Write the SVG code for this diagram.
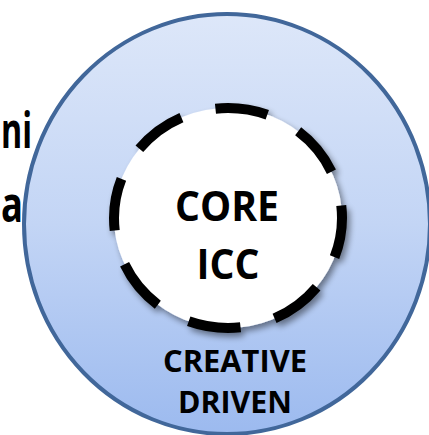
<svg xmlns="http://www.w3.org/2000/svg" width="429" height="435" viewBox="0 0 429 435">
  <style>
    .label { font-family: "Open Sans", "Liberation Sans", sans-serif; font-weight: 700; fill: #000; }
  </style>
  <defs>
    <linearGradient id="outerFill" x1="0" y1="0" x2="0" y2="1">
      <stop offset="0" stop-color="#dde7f9"/>
      <stop offset="0.5" stop-color="#c3d5f5"/>
      <stop offset="1" stop-color="#9cbaef"/>
    </linearGradient>
    <filter id="softShadow" x="-20%" y="-20%" width="140%" height="140%">
      <feGaussianBlur in="SourceAlpha" stdDeviation="3"/>
      <feOffset dx="3" dy="4" result="blur"/>
      <feComponentTransfer>
        <feFuncA type="linear" slope="0.45"/>
      </feComponentTransfer>
      <feMerge>
        <feMergeNode/>
        <feMergeNode in="SourceGraphic"/>
      </feMerge>
    </filter>
  </defs>

  <!-- fragments of neighbouring text at the left edge -->
  <g id="side-text">
    <text class="label" x="1" y="148" font-size="50" textLength="31" lengthAdjust="spacingAndGlyphs">ni</text>
    <text class="label" x="1" y="222" font-size="50" textLength="22" lengthAdjust="spacingAndGlyphs">a</text>
  </g>

  <!-- outer ring: creative driven -->
  <g id="outer">
    <ellipse cx="227" cy="224" rx="203" ry="210" fill="url(#outerFill)" stroke="#41679a" stroke-width="4"/>
    <text class="label" x="235" y="372" font-size="30" text-anchor="middle" textLength="144" lengthAdjust="spacingAndGlyphs">CREATIVE</text>
    <text class="label" x="235" y="413" font-size="30" text-anchor="middle" textLength="114" lengthAdjust="spacingAndGlyphs">DRIVEN</text>
  </g>

  <!-- inner core: dashed circle -->
  <g id="core">
    <g filter="url(#softShadow)">
      <ellipse cx="228" cy="218" rx="114" ry="110" fill="#fff" stroke="#000" stroke-width="10"
               pathLength="360" stroke-dasharray="27 18" stroke-dashoffset="6.5"/>
    </g>
    <text class="label" x="227" y="221" font-size="42" text-anchor="middle" textLength="104" lengthAdjust="spacingAndGlyphs">CORE</text>
    <text class="label" x="228" y="279" font-size="42" text-anchor="middle" textLength="63" lengthAdjust="spacingAndGlyphs">ICC</text>
  </g>
</svg>
